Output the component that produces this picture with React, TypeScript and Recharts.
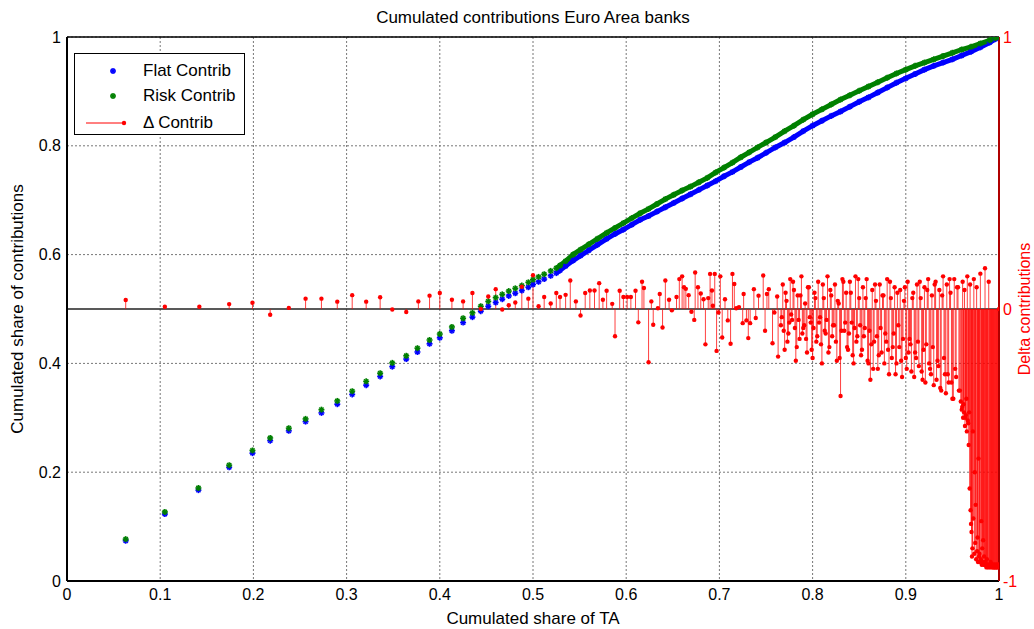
import React from 'react';
import {
  ComposedChart,
  Scatter,
  Line,
  XAxis,
  YAxis,
  CartesianGrid,
  ReferenceLine,
  ErrorBar,
} from 'recharts';

const FONT = '"Liberation Sans", Arial, Helvetica, sans-serif';

// cumulated share of total assets, one entry per bank
const curveShare = [
  0.063, 0.105, 0.141, 0.174, 0.199, 0.218, 0.238, 0.256, 0.273, 0.29, 0.306, 0.321,
  0.336, 0.349, 0.364, 0.376, 0.389, 0.4, 0.413, 0.425, 0.435, 0.444, 0.452, 0.46,
  0.467, 0.474, 0.481, 0.488, 0.495, 0.5, 0.506, 0.512, 0.519, 0.525, 0.529,
  0.535, 0.543, 0.551, 0.56, 0.569, 0.579, 0.588, 0.597, 0.606, 0.615, 0.624, 0.633,
  0.642, 0.651, 0.66, 0.669, 0.678, 0.687, 0.696, 0.705, 0.714, 0.723, 0.732, 0.741,
  0.75, 0.76, 0.77, 0.78, 0.79, 0.8, 0.81, 0.82, 0.83, 0.84, 0.85, 0.86,
  0.87, 0.88, 0.89, 0.9, 0.91, 0.92, 0.93, 0.94, 0.95, 0.96, 0.97, 0.98,
  0.99, 0.996, 1.0,
];

const riskContrib = [
  0.077, 0.127, 0.171, 0.213, 0.24, 0.263, 0.281, 0.298, 0.315, 0.331, 0.349, 0.367,
  0.382, 0.401, 0.414, 0.428, 0.443, 0.454, 0.467, 0.483, 0.493, 0.505, 0.514, 0.521,
  0.527, 0.533, 0.538, 0.543, 0.549, 0.554, 0.559, 0.564, 0.57, 0.575, 0.58,
  0.588, 0.6, 0.609, 0.619, 0.629, 0.64, 0.649, 0.658, 0.667, 0.676, 0.684, 0.693,
  0.702, 0.71, 0.718, 0.725, 0.733, 0.741, 0.751, 0.76, 0.769, 0.779, 0.788, 0.797,
  0.806, 0.816, 0.827, 0.837, 0.848, 0.858, 0.867, 0.876, 0.885, 0.893, 0.901, 0.909,
  0.917, 0.925, 0.933, 0.94, 0.947, 0.953, 0.959, 0.965, 0.971, 0.977, 0.982, 0.988,
  0.994, 0.998, 1.0,
];

const flatContrib = [
  0.074, 0.123, 0.167, 0.209, 0.235, 0.258, 0.276, 0.293, 0.309, 0.325, 0.343, 0.36,
  0.376, 0.394, 0.408, 0.421, 0.436, 0.447, 0.46, 0.475, 0.485, 0.496, 0.505, 0.512,
  0.518, 0.524, 0.529, 0.534, 0.54, 0.545, 0.55, 0.555, 0.561, 0.566, 0.571,
  0.579, 0.589, 0.598, 0.608, 0.618, 0.629, 0.638, 0.646, 0.655, 0.664, 0.671, 0.679,
  0.687, 0.695, 0.703, 0.711, 0.719, 0.727, 0.735, 0.744, 0.752, 0.761, 0.77, 0.778,
  0.787, 0.797, 0.806, 0.816, 0.827, 0.837, 0.846, 0.855, 0.863, 0.872, 0.881, 0.889,
  0.898, 0.907, 0.916, 0.924, 0.932, 0.94, 0.947, 0.953, 0.959, 0.966, 0.973, 0.981,
  0.99, 0.996, 1.0,
];

// bank positions of the delta stems and their values (right axis)
const deltaShare = [
  0.063, 0.105, 0.142, 0.174, 0.199, 0.218, 0.238, 0.256, 0.273, 0.29, 0.306, 0.321,
  0.336, 0.349, 0.364, 0.377, 0.389, 0.4, 0.413, 0.425, 0.435, 0.444, 0.452, 0.46,
  0.467, 0.474, 0.481, 0.488, 0.495, 0.5, 0.506, 0.512, 0.519, 0.525, 0.529,
  0.535, 0.54, 0.546, 0.551, 0.556, 0.561, 0.566, 0.571, 0.575, 0.579, 0.585, 0.588,
  0.593, 0.597, 0.601, 0.605, 0.61, 0.613, 0.617, 0.619, 0.624, 0.627, 0.629, 0.634,
  0.636, 0.639, 0.642, 0.646, 0.649, 0.654, 0.657, 0.66, 0.662, 0.664, 0.667, 0.67,
  0.673, 0.674, 0.677, 0.68, 0.683, 0.685, 0.688, 0.69, 0.692, 0.693, 0.695, 0.697,
  0.699, 0.701, 0.703, 0.706, 0.709, 0.712, 0.714, 0.716, 0.718, 0.721, 0.725, 0.726,
  0.729, 0.731, 0.733, 0.737, 0.739, 0.742, 0.747, 0.749, 0.751, 0.753, 0.757, 0.759,
  0.762, 0.763,
  0.766, 0.768, 0.77, 0.772, 0.774, 0.776, 0.778, 0.78, 0.782, 0.784, 0.786, 0.788,
  0.79, 0.792, 0.794, 0.796, 0.798, 0.8, 0.802, 0.804, 0.806, 0.808, 0.81, 0.812,
  0.814, 0.816, 0.818, 0.82, 0.822, 0.824, 0.826, 0.828, 0.83, 0.832, 0.834, 0.836,
  0.838, 0.84, 0.842, 0.844, 0.846, 0.848, 0.85, 0.852, 0.854, 0.856, 0.858, 0.86,
  0.862, 0.864, 0.866, 0.868, 0.87, 0.872, 0.874, 0.876, 0.878, 0.88, 0.882, 0.884,
  0.886, 0.888, 0.89, 0.892, 0.894, 0.896, 0.898, 0.9, 0.902, 0.904, 0.906, 0.908,
  0.91, 0.912, 0.914, 0.916, 0.918, 0.92, 0.922, 0.924, 0.926, 0.928, 0.93, 0.932,
  0.934, 0.936, 0.938, 0.94, 0.942, 0.944, 0.946, 0.948, 0.95, 0.952, 0.954, 0.956,
  0.958, 0.96, 0.961, 0.962, 0.963, 0.964, 0.965, 0.966, 0.967, 0.968, 0.969, 0.97,
  0.971, 0.972, 0.973, 0.974, 0.975, 0.976, 0.977, 0.978, 0.979, 0.98, 0.981, 0.982,
  0.983, 0.984, 0.985, 0.9855, 0.986, 0.987, 0.988, 0.989, 0.99, 0.991, 0.992, 0.993,
  0.994, 0.995, 0.996, 0.997, 0.998, 0.999, 1.0,
  0.767, 0.769, 0.771, 0.773, 0.775, 0.777, 0.779, 0.781, 0.783, 0.785, 0.787, 0.789,
  0.791, 0.793, 0.795, 0.797, 0.799, 0.801, 0.803, 0.805, 0.807, 0.809, 0.811, 0.813,
  0.815, 0.817, 0.819, 0.821, 0.823, 0.825, 0.827, 0.829, 0.831, 0.833, 0.835, 0.837,
  0.839, 0.841, 0.843, 0.845, 0.847, 0.849, 0.851, 0.853, 0.855, 0.857, 0.859, 0.861,
  0.863, 0.865, 0.867, 0.869, 0.871, 0.873, 0.875, 0.877, 0.879, 0.881, 0.883, 0.885,
  0.887, 0.889, 0.891, 0.893, 0.895, 0.897, 0.899, 0.901, 0.903, 0.905, 0.907, 0.909,
  0.911, 0.913, 0.915, 0.917, 0.919, 0.921, 0.923, 0.925, 0.927, 0.929, 0.931, 0.933,
  0.935, 0.937, 0.939, 0.941, 0.943, 0.945, 0.947, 0.949, 0.951, 0.953, 0.955, 0.957,
  0.959,
  0.9605, 0.9615, 0.9625, 0.9635, 0.9645, 0.9655, 0.9665, 0.9675, 0.9685, 0.9695, 0.9705, 0.9715,
  0.9725, 0.9735, 0.9745, 0.9755, 0.9765, 0.9775, 0.9785, 0.9795, 0.9805, 0.9815, 0.9825, 0.9835,
  0.9845, 0.9865, 0.9875, 0.9885, 0.9895, 0.9905, 0.9915, 0.9925, 0.9935, 0.9945, 0.9955, 0.9965,
  0.9975, 0.9985, 0.9995,
];

const deltaContrib = [
  0.033, 0.008, 0.008, 0.018, 0.023, -0.021, 0.004, 0.038, 0.038, 0.027, 0.051, 0.027,
  0.043, -0.002, -0.011, 0.028, 0.049, 0.059, 0.034, 0.028, 0.059, 0.0, 0.046, 0.073,
  -0.002, 0.014, 0.024, 0.082, 0.038, 0.124, 0.01, 0.044, 0.02, 0.059, 0.044,
  0.052, 0.105, 0.028, -0.024, 0.059, 0.068, 0.068, 0.095, 0.034, 0.067, 0.019, -0.1,
  0.067, 0.044, 0.044, 0.044, 0.067, -0.049, 0.1, 0.077, -0.196, 0.028, -0.058, 0.003,
  0.055, -0.068, 0.105, 0.034, -0.005, 0.044, 0.11, 0.12, 0.08, 0.074, 0.051, -0.01,
  -0.04, 0.134, 0.08, 0.057, 0.036, -0.13, 0.04, 0.129, 0.068, 0.012, 0.129, -0.154,
  -0.013, 0.12, -0.105, 0.036, -0.042, -0.128, 0.129, 0.092, 0.003, 0.007, -0.052, 0.055,
  -0.042, -0.107, -0.052, 0.073, -0.033, 0.049, 0.123, -0.08, 0.055, 0.073, -0.126, -0.013,
  0.046, -0.175,
  -0.06, 0.09, -0.15, 0.03, -0.09, 0.11, -0.04, 0.07, -0.19, 0.05, -0.11, 0.12,
  -0.07, 0.02, -0.16, 0.08, -0.05, -0.18, 0.06, -0.12, 0.1, -0.03, -0.2, 0.04,
  -0.09, 0.12, -0.14, 0.05, -0.06, 0.09, -0.19, 0.02, -0.32, 0.11, -0.08, 0.06,
  -0.15, 0.1, -0.05, -0.2, 0.12, -0.1, 0.04, -0.17, 0.08, -0.07, 0.11, -0.2,
  -0.26, 0.07, -0.12, 0.03, -0.22, 0.09, -0.16, 0.05, -0.09, 0.11, -0.24, 0.04,
  -0.14, 0.08, -0.2, -0.06, 0.07, -0.25, 0.03, -0.18, 0.1, -0.11, -0.23, 0.06,
  -0.16, 0.09, -0.21, 0.04, -0.26, 0.08, -0.13, 0.11, -0.22, 0.05, -0.28, 0.1,
  -0.19, 0.07, -0.3, 0.12, -0.24, 0.09, -0.27, 0.06, -0.33, 0.11, -0.25, 0.08,
  -0.3, -0.37, 0.1, -0.35, 0.07, -0.4, -0.33, 0.12, -0.42, -0.38, 0.09, -0.79,
  -0.91, -0.45, 0.11, -0.6, -0.72, 0.08, -0.84, -0.55, -0.9, 0.13, -0.78, -0.88,
  -0.85, -0.91, 0.15, -0.93, -0.94, -0.92, -0.94, 0.1, -0.94, -0.93, -0.94, -0.94,
  -0.95, -0.94, -0.95, -0.94, -0.95, -0.94, 0.0,
  -0.03, -0.08, 0.06, -0.12, -0.05, -0.02, 0.1, -0.07, -0.14, -0.04, 0.05, -0.09,
  -0.06, -0.11, 0.08, -0.03, -0.15, -0.07, 0.04, -0.1, -0.05, -0.13, 0.09, -0.08,
  -0.04, -0.16, 0.07, -0.1, -0.06, -0.12, 0.03, -0.18, -0.08, 0.1, -0.05, -0.14,
  -0.09, 0.06, -0.17, -0.07, -0.12, 0.11, -0.06, -0.15, -0.1, 0.04, -0.19, -0.08,
  -0.13, -0.22, 0.09, -0.1, -0.17, -0.07, 0.05, -0.2, -0.12, -0.15, 0.1, -0.18,
  -0.09, -0.24, 0.06, -0.14, -0.19, -0.11, 0.08, -0.22, -0.16, -0.13, 0.04, -0.25,
  -0.18, -0.12, 0.1, -0.23, -0.15, -0.27, 0.07, -0.2, -0.24, -0.14, 0.09, -0.26,
  -0.21, -0.29, 0.05, -0.18, -0.31, -0.24, 0.11, -0.27, -0.33, -0.22, 0.08, -0.3,
  -0.34,
  -0.36, -0.4, -0.38, -0.43, -0.39, -0.45, -0.41, -0.5, -0.66, -0.74, -0.82, -0.88,
  -0.77, -0.9, -0.86, -0.92, -0.89, -0.93, -0.91, -0.93, -0.92, -0.94, -0.93, -0.94,
  -0.94, -0.95, -0.94, -0.95, -0.94, -0.95, -0.94, -0.95, -0.94, -0.95, -0.94, -0.95,
  -0.94, -0.95, -0.94,
];

const xTicks = [0, 0.1, 0.2, 0.3, 0.4, 0.5, 0.6, 0.7, 0.8, 0.9, 1];
const leftTicks = [0, 0.2, 0.4, 0.6, 0.8, 1];
const rightTicks = [-1, 0, 1];

const flatRows = curveShare.map((x, i) => ({ x, y: flatContrib[i] }));
const riskRows = curveShare.map((x, i) => ({ x, y: riskContrib[i] }));
// beyond ~0.53 the markers merge into a continuous band
const flatBand = flatRows.filter((r) => r.x >= 0.525);
const riskBand = riskRows.filter((r) => r.x >= 0.525);

const stemRows = deltaShare.map((x, i) => {
  const d = deltaContrib[i];
  return { x, d, stem: d >= 0 ? [d, 0] : [0, -d] };
});

const star = (color: string) => (props: any) => {
  const { cx, cy } = props;
  if (cx == null || cy == null) return <g />;
  const r = 3;
  const k = r * 0.7;
  return (
    <g stroke={color} strokeWidth={1.6}>
      <line x1={cx - r} y1={cy} x2={cx + r} y2={cy} />
      <line x1={cx} y1={cy - r} x2={cx} y2={cy + r} />
      <line x1={cx - k} y1={cy - k} x2={cx + k} y2={cy + k} />
      <line x1={cx - k} y1={cy + k} x2={cx + k} y2={cy - k} />
    </g>
  );
};

const stemDot = (props: any) => {
  const { cx, cy } = props;
  if (cx == null || cy == null) return <g />;
  return <circle cx={cx} cy={cy} r={2.2} fill="#ff0000" />;
};

const tickStyle = { fill: '#000', fontSize: 16, fontFamily: FONT };

export default function App() {
  return (
    <div
      style={{
        position: 'absolute',
        left: 0,
        top: 0,
        width: 1034,
        height: 629,
        background: '#fff',
        fontFamily: FONT,
        overflow: 'hidden',
      }}
    >
      <ComposedChart width={1034} height={629} margin={{ top: 37, right: 0, left: 7, bottom: 0 }}>
        <CartesianGrid yAxisId="left" stroke="#777" strokeDasharray="2 2" />
        <XAxis
          dataKey="x"
          type="number"
          domain={[0, 1]}
          ticks={xTicks}
          allowDataOverflow
          tickLine={false}
          tickSize={6}
          tickMargin={2}
          tick={tickStyle}
          axisLine={{ stroke: '#000', strokeWidth: 2 }}
          height={48}
          label={{
            value: 'Cumulated share of TA',
            position: 'insideBottom',
            offset: 5,
            fill: '#000',
            fontSize: 17,
            fontFamily: FONT,
          }}
        />
        <YAxis
          yAxisId="left"
          type="number"
          domain={[0, 1]}
          ticks={leftTicks}
          allowDataOverflow
          width={60}
          tickLine={false}
          tickSize={6}
          tickMargin={0}
          tick={tickStyle}
          axisLine={{ stroke: '#000', strokeWidth: 2 }}
        />
        <YAxis
          yAxisId="right"
          orientation="right"
          type="number"
          domain={[-1, 1]}
          ticks={rightTicks}
          allowDataOverflow
          width={35}
          tickLine={false}
          tickSize={4}
          tickMargin={0}
          tick={{ ...tickStyle, fill: '#ff0000' }}
          axisLine={{ stroke: '#b00000', strokeWidth: 2 }}
        />
        <ReferenceLine yAxisId="left" y={1} stroke="#000" strokeWidth={1.5} />
        <ReferenceLine yAxisId="right" y={0} stroke="#222" strokeWidth={1.5} />

        <Line
          data={flatBand}
          yAxisId="left"
          dataKey="y"
          stroke="#0000ff"
          strokeWidth={5}
          dot={false}
          isAnimationActive={false}
        />
        <Scatter
          name="Flat Contrib"
          data={flatRows}
          yAxisId="left"
          dataKey="y"
          shape={star('#0000ff')}
          isAnimationActive={false}
        />
        <Line
          data={riskBand}
          yAxisId="left"
          dataKey="y"
          stroke="#008000"
          strokeWidth={5}
          dot={false}
          isAnimationActive={false}
        />
        <Scatter
          name="Risk Contrib"
          data={riskRows}
          yAxisId="left"
          dataKey="y"
          shape={star('#008000')}
          isAnimationActive={false}
        />
        <Scatter
          name="Delta Contrib"
          data={stemRows}
          yAxisId="right"
          dataKey="d"
          shape={stemDot}
          isAnimationActive={false}
        >
          <ErrorBar
            dataKey="stem"
            direction="y"
            width={0}
            stroke="#ff0000"
            strokeWidth={1}
            strokeOpacity={0.75}
          />
        </Scatter>
      </ComposedChart>

      <div
        style={{
          position: 'absolute',
          left: 67,
          width: 932,
          top: 8,
          textAlign: 'center',
          fontSize: 17,
          color: '#000',
        }}
      >
        Cumulated contributions Euro Area banks
      </div>
      <div
        style={{
          position: 'absolute',
          left: 18,
          top: 309,
          transform: 'translate(-50%, -50%) rotate(-90deg)',
          whiteSpace: 'nowrap',
          fontSize: 17,
          color: '#000',
        }}
      >
        Cumulated share of contributions
      </div>
      <div
        style={{
          position: 'absolute',
          left: 1024,
          top: 309,
          transform: 'translate(-50%, -50%) rotate(-90deg)',
          whiteSpace: 'nowrap',
          fontSize: 16,
          lineHeight: '17px',
          color: '#ff0000',
        }}
      >
        Delta contributions
      </div>

      <div
        style={{
          position: 'absolute',
          left: 74,
          top: 53,
          width: 169,
          height: 80,
          border: '1px solid #000',
          background: '#fff',
          fontSize: 17,
          color: '#000',
        }}
      >
        <svg width={60} height={80} style={{ position: 'absolute', left: 0, top: 0 }}>
          {star('#0000ff')({ cx: 38, cy: 17 })}
          {star('#008000')({ cx: 38, cy: 42 })}
          <line x1={11} y1={69} x2={49} y2={69} stroke="#ff0000" strokeWidth={1} />
          <circle cx={49} cy={69} r={2.2} fill="#ff0000" />
        </svg>
        <div style={{ position: 'absolute', left: 68, top: 7 }}>Flat Contrib</div>
        <div style={{ position: 'absolute', left: 68, top: 32 }}>Risk Contrib</div>
        <div style={{ position: 'absolute', left: 68, top: 59 }}>Δ Contrib</div>
      </div>
    </div>
  );
}
